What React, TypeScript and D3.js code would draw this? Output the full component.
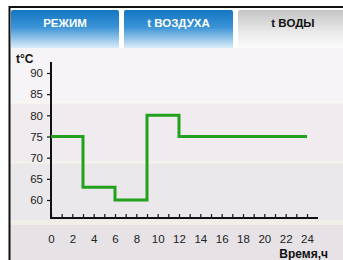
import React, { useRef, useEffect } from "react";
import * as d3 from "d3";

const hours = [0, 3, 6, 9, 12, 24];
const temps = [75, 63, 60, 80, 75, 75];
const yTicks = [60, 65, 70, 75, 80, 85, 90];
const tabLabels = ["РЕЖИМ", "t ВОЗДУХА", "t ВОДЫ"];
const activeTab = 2;

const W = 343;
const H = 260;
const FONT = "'Liberation Sans', Arial, sans-serif";

const App = () => {
  const xAxisRef = useRef<SVGGElement>(null);
  const xLabelRef = useRef<SVGGElement>(null);
  const yAxisRef = useRef<SVGGElement>(null);

  const x = d3.scaleLinear().domain([0, 24]).range([51, 307]);
  const y = d3.scaleLinear().domain([60, 90]).range([200, 73]);
  const axisY = 218;

  const line = d3
    .line<number>()
    .x((_, i) => x(hours[i]))
    .y((d) => y(d))
    .curve(d3.curveStepAfter);

  useEffect(() => {
    const xa = d3.select(xAxisRef.current);
    xa.selectAll("*").remove();
    xa.call(
      d3.axisBottom(x).tickValues(d3.range(0, 25)).tickSize(-4).tickFormat(() => "")
    );
    xa.select(".domain").remove();
    xa.selectAll(".tick line").attr("stroke", "#111").attr("stroke-width", 1.2);

    const xl = d3.select(xLabelRef.current);
    xl.selectAll("*").remove();
    xl.call(
      d3.axisBottom(x).tickValues(d3.range(0, 25, 2)).tickSize(0).tickPadding(17).tickFormat(d3.format("d"))
    );
    xl.select(".domain").remove();
    xl.selectAll("text").attr("font-family", FONT).attr("font-size", 11.5).attr("fill", "#222");

    const ya = d3.select(yAxisRef.current);
    ya.selectAll("*").remove();
    ya.call(d3.axisLeft(y).tickValues(yTicks).tickSize(4).tickPadding(4));
    ya.select(".domain").remove();
    ya.selectAll(".tick line").attr("stroke", "#111").attr("stroke-width", 1.2);
    ya.selectAll("text").attr("font-family", FONT).attr("font-size", 11.5).attr("fill", "#222");
  }, []);

  const tabX = [11, 124, 238];
  const tabW = [108, 109, 110];

  return (
    <svg
      width={W}
      height={H}
      style={{ position: "absolute", left: 0, top: 0, background: "#fff" }}
    >
      <defs>
        <linearGradient id="blueTab" x1="0" y1="0" x2="0" y2="1">
          <stop offset="0" stopColor="#1476c2" />
          <stop offset="0.45" stopColor="#3a93d6" />
          <stop offset="1" stopColor="#dcedf9" />
        </linearGradient>
        <linearGradient id="grayTab" x1="0" y1="0" x2="0" y2="1">
          <stop offset="0" stopColor="#c4c4c4" />
          <stop offset="0.6" stopColor="#ebebeb" />
          <stop offset="1" stopColor="#fbfbfb" />
        </linearGradient>
      </defs>

      {/* panel background bands */}
      <rect x={9} y={48} width={W} height={53} fill="#f7f4f7" />
      <rect x={9} y={101} width={W} height={2.5} fill="#f9f7ef" />
      <rect x={9} y={103.5} width={W} height={58} fill="#efebef" />
      <rect x={9} y={161.5} width={W} height={2.5} fill="#f3f0e9" />
      <rect x={9} y={164} width={W} height={56} fill="#ebe8eb" />
      <rect x={9} y={220} width={W} height={5} fill="#f1eee7" />
      <rect x={9} y={225} width={W} height={40} fill="#e6e2e6" />

      {/* tabs */}
      <rect x={9} y={8} width={W} height={40} fill="#fff" />
      {tabLabels.map((t, i) => (
        <g key={t}>
          <path
            d={`M${tabX[i]},48 V12 q0,-2 2,-2 H${tabX[i] + tabW[i] - 2} q2,0 2,2 V48 Z`}
            fill={i === activeTab ? "url(#grayTab)" : "url(#blueTab)"}
          />
          <text
            x={tabX[i] + tabW[i] / 2}
            y={27}
            textAnchor="middle"
            fontFamily={FONT}
            fontWeight="bold"
            fontSize={11.5}
            fill={i === activeTab ? "#111" : "#fff"}
          >
            {t}
          </text>
        </g>
      ))}

      {/* frame */}
      <path d={`M9.5,${H} V7 H${W}`} fill="none" stroke="#111" strokeWidth={2} />

      {/* axes */}
      <g ref={yAxisRef} transform="translate(51,0)" />
      <g ref={xAxisRef} transform={`translate(0,${axisY})`} />
      <g ref={xLabelRef} transform={`translate(0,${axisY})`} />
      <line x1={51} x2={51} y1={62} y2={axisY + 1} stroke="#111" strokeWidth={2} />
      <line x1={50} x2={318} y1={axisY} y2={axisY} stroke="#111" strokeWidth={2} />

      <path d={line(temps) || ""} fill="none" stroke="#22a01e" strokeWidth={3} />

      <text x={16} y={63} fontFamily={FONT} fontWeight="bold" fontSize={12} fill="#111">
        t°C
      </text>
      <text x={328} y={258} textAnchor="end" fontFamily={FONT} fontWeight="bold" fontSize={12} fill="#111">
        Время,ч
      </text>
    </svg>
  );
};

export default App;
